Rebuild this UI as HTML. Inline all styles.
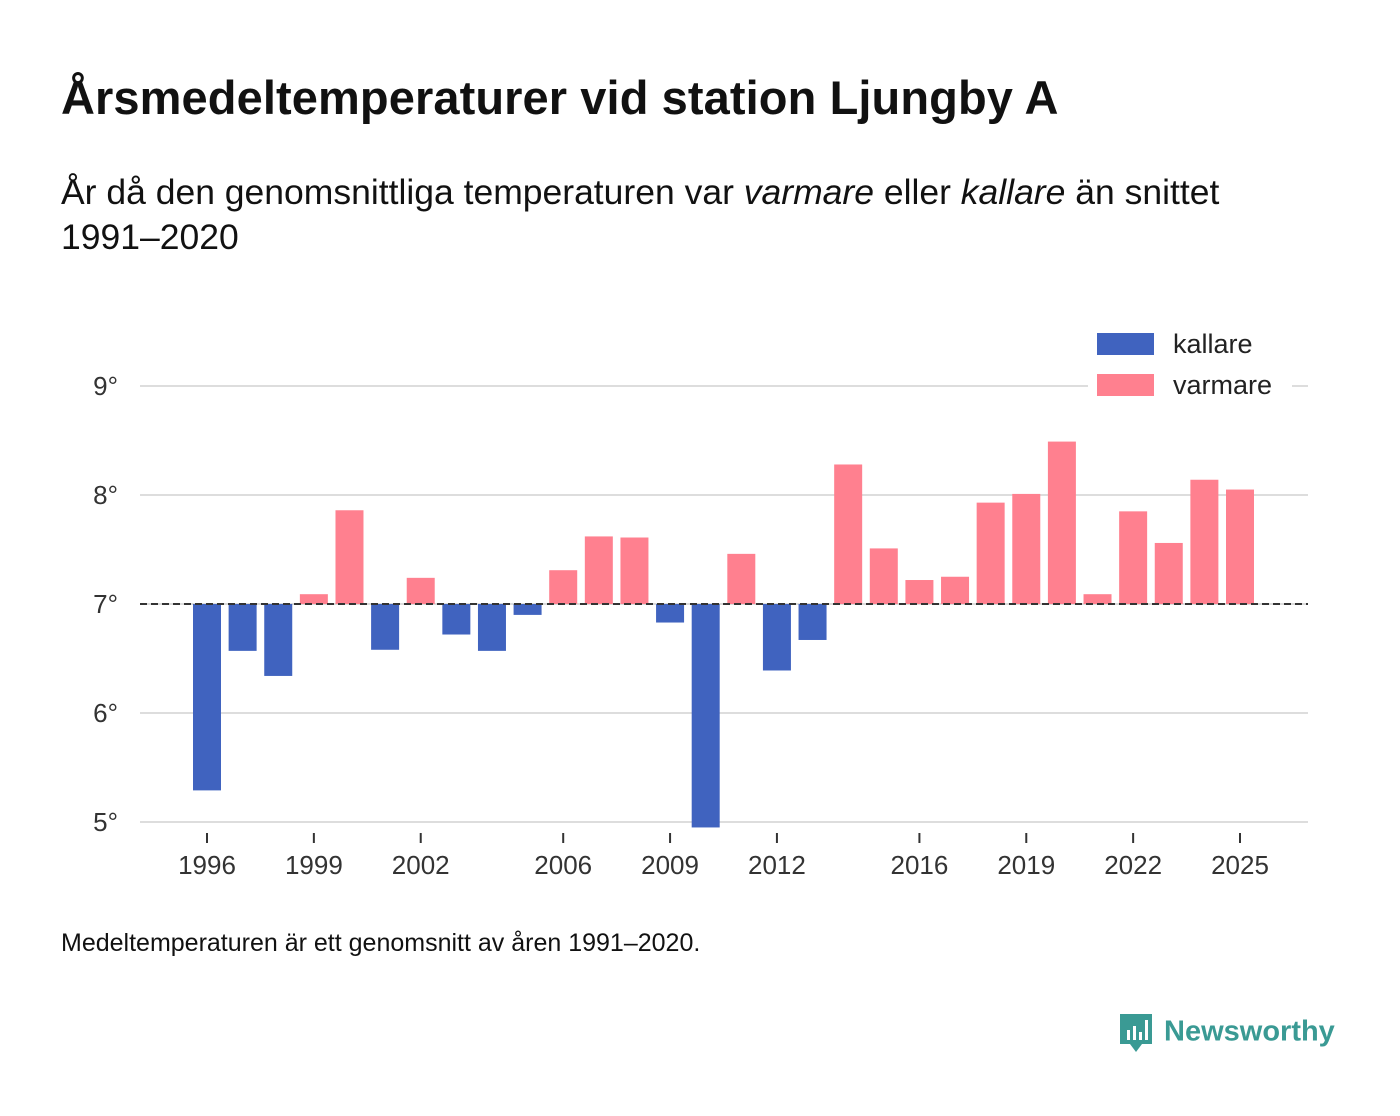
<!DOCTYPE html>
<html><head><meta charset="utf-8"><style>
body{margin:0;width:1400px;height:1116px;background:#fff;font-family:"Liberation Sans","DejaVu Sans",sans-serif;color:#111;position:relative;overflow:hidden}
#title{position:absolute;left:61px;top:70px;font-size:47px;font-weight:bold;margin:0;letter-spacing:0.1px}
#sub{position:absolute;left:61px;top:170px;font-size:35.5px;line-height:45px;width:1250px}
#note{position:absolute;left:61px;top:929px;font-size:25px}
#logo{position:absolute;left:1118px;top:1012px;font-size:29px;color:#3a9a94;font-weight:bold}
</style></head><body>
<h1 id="title">Årsmedeltemperaturer vid station Ljungby A</h1>
<div id="sub">År då den genomsnittliga temperaturen var <i>varmare</i> eller <i>kallare</i> än snittet<br>1991–2020</div>
<svg id="chart" width="1400" height="1116" style="position:absolute;left:0;top:0"></svg>
<div id="note">Medeltemperaturen är ett genomsnitt av åren 1991–2020.</div>
<div id="logo"><svg width="36" height="42" style="vertical-align:middle;margin-right:10px" viewBox="0 0 36 42"><path d="M2 2h32v30H24l-6 8-6-8H2z" fill="#3a9a94"/><rect x="9" y="18" width="3" height="10" fill="#fff"/><rect x="15" y="14" width="3" height="14" fill="#fff"/><rect x="21" y="20" width="3" height="8" fill="#fff"/><rect x="27" y="8" width="3" height="20" fill="#fff"/></svg>Newsworthy</div>
<script>
const years=[1996,1997,1998,1999,2000,2001,2002,2003,2004,2005,2006,2007,2008,2009,2010,2011,2012,2013,2014,2015,2016,2017,2018,2019,2020,2021,2022,2023,2024,2025];
const temps=[5.29,6.57,6.34,7.09,7.86,6.58,7.24,6.72,6.57,6.90,7.31,7.62,7.61,6.83,4.95,7.46,6.39,6.67,8.28,7.51,7.22,7.25,7.93,8.01,8.49,7.09,7.85,7.56,8.14,8.05];
const baseline=7;
const yTicks=[5,6,7,8,9];
const xTickYears=[1996,1999,2002,2006,2009,2012,2016,2019,2022,2025];
const svg=document.getElementById('chart');
const NS='http://www.w3.org/2000/svg';
const x=yr=>207+(yr-1996)*(1240-207)/29;
const y=v=>604-(v-7)*109;
function mk(t,a){const e=document.createElementNS(NS,t);for(const k in a)e.setAttribute(k,a[k]);svg.appendChild(e);return e;}
yTicks.forEach(v=>{
 const l=mk('line',{x1:140,x2:1308,y1:y(v),y2:y(v),stroke:'#ddd','stroke-width':2});
 
 
 const t=mk('text',{x:118,y:y(v)+9,'text-anchor':'end','font-size':26,fill:'#333','font-family':'Liberation Sans, sans-serif'});
 t.textContent=v+'°';
 
 
});
years.forEach((yr,i)=>{
 const v=temps[i];const top=Math.min(y(v),y(baseline));const h=Math.abs(y(v)-y(baseline));
 const r=mk('rect',{x:x(yr)-14,y:top,width:28,height:h,fill:v<baseline?'#4063bf':'#ff808f'});
 
 
});
const bl=mk('line',{x1:140,x2:1308,y1:y(baseline),y2:y(baseline),stroke:'#333','stroke-width':2,'stroke-dasharray':'7,4'});


xTickYears.forEach(yr=>{
 const tk=mk('line',{x1:x(yr),x2:x(yr),y1:833,y2:843,stroke:'#333','stroke-width':2});
 
 
 const t=mk('text',{x:x(yr),y:874,'text-anchor':'middle','font-size':26,fill:'#333','font-family':'Liberation Sans, sans-serif'});
 t.textContent=yr;
 
 
});
const lbg=mk('rect',{x:1088,y:325,width:204,height:80,fill:'#fff'});


[['kallare','#4063bf',333],['varmare','#ff808f',374]].forEach(([n,c,yy])=>{
 const r=mk('rect',{x:1097,y:yy,width:57,height:22,fill:c});
 
 
 const t=mk('text',{x:1173,y:yy+20,'font-size':27,fill:'#222','font-family':'Liberation Sans, sans-serif'});
 t.textContent=n;
 
 
});
</script>
</body></html>
